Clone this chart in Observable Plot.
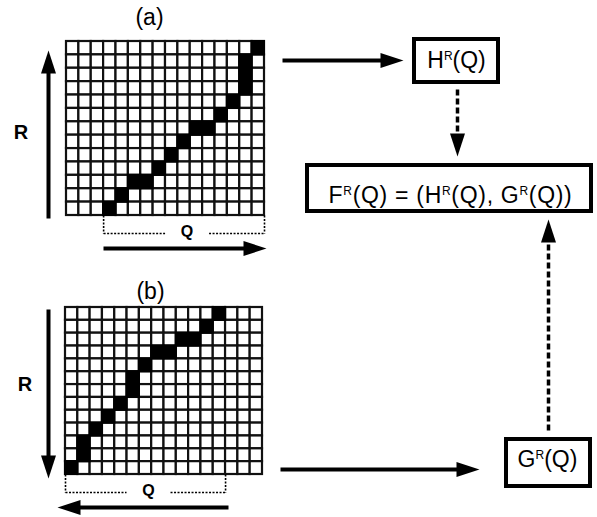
<!DOCTYPE html>
<html>
<head>
<meta charset="utf-8">
<script src="https://cdn.jsdelivr.net/npm/d3@7"></script>
<script src="https://cdn.jsdelivr.net/npm/@observablehq/plot@0.6"></script>
<style>
  body { margin: 0; background: #fff; }
  svg { display: block; }
</style>
</head>
<body>
<div id="chart"></div>
<script>
// Each matrix is 16 columns × 13 rows; the path lists the filled column(s) of every row, top row first.
const nCols = 16;
const nRows = 13;
const pathA = [[15], [14], [14], [14], [13], [12], [10, 11], [9], [8], [7], [5, 6], [4], [3]];
const pathB = [[12], [11], [9, 10], [7, 8], [6], [5], [5], [4], [3], [2], [1], [1], [0]];

// Text drawn in the figure (ᴿ is rendered as a superscript R)
const panelLabels = ["(a)", "(b)"];
const axisLabelR = "R";
const axisLabelQ = "Q";
const boxLabels = ["Hᴿ(Q)", "Fᴿ(Q) = (Hᴿ(Q), Gᴿ(Q))", "Gᴿ(Q)"];

// ---- layout (pixel units of the drawing area) ----
const W = 597, H = 517;
const frames = [
  {path: pathA, x0: 66, y0: 41, w: 198, h: 174, label: panelLabels[0], lx: 149, ly: 17, rx: 20.5, ry: 132.5},
  {path: pathB, x0: 65, y0: 307, w: 197, h: 167, label: panelLabels[1], lx: 150, ly: 291, rx: 24.5, ry: 384.5}
];
const boxes = [
  {x1: 414, x2: 498, y1: 39, y2: 82, text: boxLabels[0], tx: 456, ty: 60, spacing: 0},
  {x1: 307, x2: 591, y1: 165, y2: 211, text: boxLabels[1], tx: 450, ty: 195, spacing: 0.7},
  {x1: 506, x2: 590, y1: 439, y2: 486, text: boxLabels[2], tx: 547, ty: 459.5, spacing: 0}
];
const solidArrows = [
  {x1: 48, y1: 218, x2: 48, y2: 50},     // R axis, panel a (upward)
  {x1: 103, y1: 248, x2: 266, y2: 248},  // Q axis, panel a (rightward)
  {x1: 282, y1: 60, x2: 403, y2: 60},    // panel a -> H
  {x1: 48, y1: 309, x2: 48, y2: 478},    // R axis, panel b (downward)
  {x1: 228, y1: 507, x2: 57, y2: 507},   // Q axis, panel b (leftward)
  {x1: 280, y1: 469, x2: 479, y2: 469}   // panel b -> G
];
const dashedArrows = [
  {x1: 457, y1: 89, x2: 457, y2: 156},   // H -> F
  {x1: 548, y1: 430, x2: 548, y2: 219}   // G -> F
];
const headLen = 23, headWidth = 15;

// Filled triangular arrowhead, tip at the origin, pointing up before rotation
const arrowHead = {
  draw(context) {
    context.moveTo(0, 0);
    context.lineTo(-headWidth / 2, headLen);
    context.lineTo(headWidth / 2, headLen);
    context.closePath();
  }
};

function shafts(arrows) {
  return arrows.map(a => {
    const dx = a.x2 - a.x1, dy = a.y2 - a.y1, len = Math.hypot(dx, dy);
    return {
      x1: a.x1, y1: a.y1,
      x2: a.x2 - dx / len * (headLen - 2), y2: a.y2 - dy / len * (headLen - 2),
      tx: a.x2, ty: a.y2,
      angle: Math.atan2(dx, -dy) * 180 / Math.PI
    };
  });
}

function cells(f) {
  const cw = f.w / nCols, ch = f.h / nRows;
  const out = [];
  f.path.forEach((cols, r) => {
    for (let c = 0; c < nCols; ++c) {
      out.push({x1: f.x0 + c * cw, x2: f.x0 + (c + 1) * cw, y1: f.y0 + r * ch, y2: f.y0 + (r + 1) * ch, on: cols.includes(c)});
    }
  });
  return out;
}

// Dotted bracket spanning the columns visited by the path, with the Q label in its gap
function bracket(f) {
  const cw = f.w / nCols;
  const all = f.path.flat();
  const left = f.x0 + d3.min(all) * cw, right = f.x0 + (d3.max(all) + 1) * cw;
  const top = f.y0 + f.h, yb = top + 18, mid = (left + right) / 2 + 3, gap = 22;
  return {
    segs: [
      {x1: left, y1: top, x2: left, y2: yb},
      {x1: right, y1: top, x2: right, y2: yb},
      {x1: left, y1: yb, x2: mid - gap, y2: yb},
      {x1: mid + gap, y1: yb, x2: right, y2: yb}
    ],
    label: {x: mid, y: yb - 2, text: axisLabelQ}
  };
}

const allCells = frames.flatMap(cells);
const brackets = frames.map(bracket);
const solid = shafts(solidArrows);
const dashed = shafts(dashedArrows);

const svg = Plot.plot({
  width: W,
  height: H,
  margin: 0,
  x: {domain: [0, W], range: [0, W], axis: null},
  y: {domain: [0, H], range: [0, H], axis: null},
  style: {background: "#fff", fontFamily: "'Liberation Sans', Arial, Helvetica, sans-serif", color: "#000"},
  marks: [
    // matrices
    Plot.rect(allCells.filter(d => !d.on), {x1: "x1", x2: "x2", y1: "y1", y2: "y2", fill: "#fff", stroke: "#111", strokeWidth: 2.2}),
    Plot.rect(allCells.filter(d => d.on), {x1: "x1", x2: "x2", y1: "y1", y2: "y2", fill: "#000", stroke: "#000", strokeWidth: 2.2}),
    // Q brackets
    Plot.link(brackets.flatMap(b => b.segs), {x1: "x1", y1: "y1", x2: "x2", y2: "y2", stroke: "#000", strokeWidth: 1.6, strokeDasharray: "2,1.5"}),
    Plot.text(brackets.map(b => b.label), {x: "x", y: "y", text: "text", fontSize: 16, fontWeight: "bold"}),
    // panel and axis labels
    Plot.text(frames, {x: "lx", y: "ly", text: "label", fontSize: 23}),
    Plot.text(frames, {x: "rx", y: "ry", text: () => axisLabelR, fontSize: 20, fontWeight: "bold"}),
    // boxes
    Plot.rect(boxes, {x1: "x1", x2: "x2", y1: "y1", y2: "y2", fill: "#fff", stroke: "#000", strokeWidth: 4}),
    Plot.text(boxes, {x: "tx", y: "ty", text: "text", fontSize: 23, className: "boxlabel"}),
    // arrows
    Plot.link(solid, {x1: "x1", y1: "y1", x2: "x2", y2: "y2", stroke: "#000", strokeWidth: 4}),
    Plot.link(dashed, {x1: "x1", y1: "y1", x2: "x2", y2: "y2", stroke: "#000", strokeWidth: 3.5, strokeDasharray: "6,3"}),
    Plot.dot([...solid, ...dashed], {x: "tx", y: "ty", symbol: arrowHead, rotate: "angle", r: 10, fill: "#000", stroke: "none"})
  ]
});

// Letter spacing of the box labels
d3.select(svg).selectAll(".boxlabel text").each(function (i, j) {
  const sp = boxes[j] ? boxes[j].spacing : 0;
  if (sp) d3.select(this).attr("letter-spacing", sp);
});

// Render the ᴿ marks as raised, smaller R characters
d3.select(svg).selectAll("text").each(function () {
  const t = this.textContent;
  if (!t.includes("ᴿ")) return;
  const el = d3.select(this);
  el.selectAll("*").remove();
  el.text(null);
  t.split("ᴿ").forEach((part, i) => {
    if (i > 0) {
      el.append("tspan").attr("font-size", 12).attr("dy", -8).text("R");
      el.append("tspan").attr("dy", 8).text(part);
    } else {
      el.append("tspan").text(part);
    }
  });
});

document.getElementById("chart").append(svg);
</script>
</body>
</html>
